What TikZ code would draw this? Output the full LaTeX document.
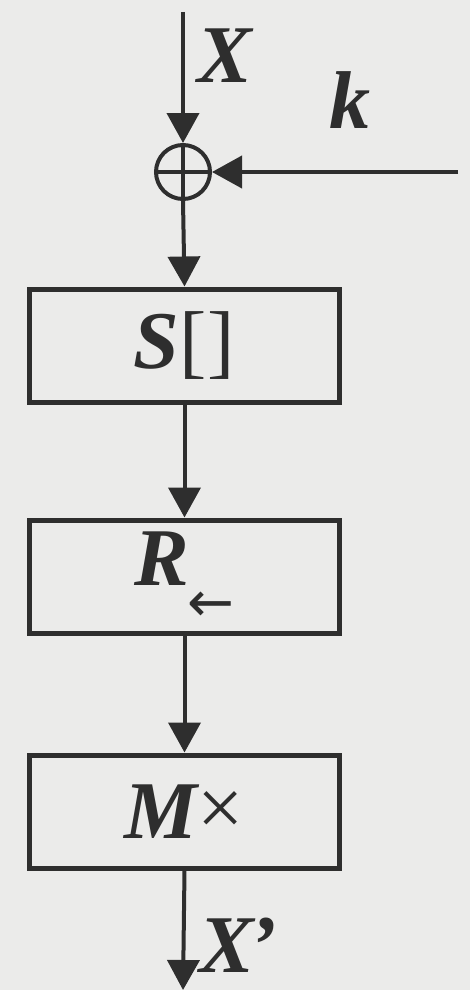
\documentclass[tikz,border=0pt]{standalone}
\usepackage{fontspec}
\setmainfont{Liberation Serif}
\newfontfamily\arrowfont{DejaVu Sans}
\usetikzlibrary{arrows.meta}
\definecolor{bg}{HTML}{EBEBEA}
\definecolor{ink}{HTML}{2E2E2E}
\begin{document}
\begin{tikzpicture}[x=1pt,y=-1pt,
  conn/.style={draw=ink,line width=4pt},
  arr/.style={conn,-{Triangle[length=30pt,width=32pt]}},
  box/.style={draw=ink,line width=5pt,minimum width=310pt,minimum height=113pt,inner sep=0pt,text=ink,font=\fontsize{82}{90}\selectfont},
  lbl/.style={inner sep=0pt,text=ink,font=\fontsize{82}{90}\selectfont\bfseries\itshape},
  xorop/.style={circle,draw=ink,line width=4pt,minimum size=54pt,inner sep=0pt,
    path picture={\draw[ink,line width=4pt] (path picture bounding box.north) -- (path picture bounding box.south)
      (path picture bounding box.west) -- (path picture bounding box.east);}}]
\fill[bg] (0,0) rectangle (470,990);
\useasboundingbox (0,0) rectangle (470,990);
\coordinate (top) at (183,12);
\coordinate (kin) at (458,172);
\coordinate (out) at (183,990);
\node[xorop] (xor) at (183,172) {};
\node[box] (sbox) at (184.5,345.5) {{\bfseries\itshape S}[\kern1pt]};
\node[box] (rbox) at (184.5,576.5) {{\bfseries\itshape R}\kern-1pt\raisebox{-36pt}{\fontsize{56}{60}\arrowfont ←}};
\node[box] (mbox) at (184.5,811.5) {{\bfseries\itshape M}\raisebox{3pt}{×}};
\node[lbl] (xl) at (225,56) {X};
\node[lbl] (kl) at (350,100) {k};
\node[lbl] (xpl) at (238,945) {X\kern-4pt'};
\draw[arr] (top) -- (xor.north);
\draw[arr] (kin) -- (xor.east);
\draw[arr] (xor.south) -- (sbox.north);
\draw[arr] (sbox.south) -- (rbox.north);
\draw[arr] (rbox.south) -- (mbox.north);
\draw[arr] (mbox.south) -- (out);
\end{tikzpicture}
\end{document}
